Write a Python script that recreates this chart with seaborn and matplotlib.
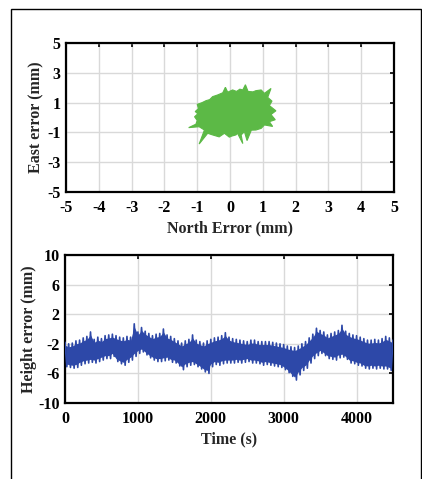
import numpy as np
import pandas as pd
import matplotlib
matplotlib.use("Agg")
import matplotlib.pyplot as plt
import seaborn as sns
from matplotlib.patches import Rectangle

# ---- data ----
# outline of the North/East error cloud (mm)
cloud_north = [-1.26, -1.04, -1.00, -1.08, -0.98, -1.06, -0.96, -1.00, -0.85, -0.73, -0.62, -0.53,
               -0.38, -0.22, -0.14, -0.07, 0.08, 0.20, 0.30, 0.39, 0.47, 0.55, 0.70, 0.79,
               0.95, 1.05, 1.25, 1.15, 1.28, 1.20, 1.40, 1.25, 1.38, 1.20, 1.30, 1.05,
               0.95, 0.79, 0.65, 0.52, 0.44, 0.34, 0.39, 0.23, 0.18, 0.05, -0.02, -0.17,
               -0.33, -0.53, -0.68, -0.94, -0.78, -0.94]
cloud_east = [-0.68, -0.45, -0.20, 0.05, 0.25, 0.40, 0.60, 0.88, 1.00, 1.13, 1.20, 1.40,
              1.51, 1.66, 2.03, 1.70, 1.85, 1.75, 1.90, 1.85, 2.20, 1.75, 1.72, 1.80,
              1.85, 1.62, 1.95, 1.35, 1.10, 0.80, 0.45, 0.20, -0.15, -0.28, -0.60, -0.50,
              -0.73, -0.84, -0.85, -1.55, -0.95, -1.17, -1.75, -1.06, -1.17, -1.25, -1.32, -1.06,
              -1.30, -1.17, -1.06, -1.78, -0.84, -0.62]

# height error band (mm), sampled every 50 s from 0 to 4500 s
time_s = list(range(0, 4501, 50))
height_upper = [-1.8, -2.0, -1.9, -1.6, -1.5, -1.2, -1.0, -0.4, -1.4, -1.1,
                -1.3, -0.9, -0.8, -0.7, -0.9, -1.1, -1.2, -1.0, -1.1, 0.7,
                -0.4, 0.2, -0.3, -0.6, -0.9, -0.7, -0.6, 0.0, -0.8, -1.0,
                -1.3, -1.6, -1.9, -1.6, -1.4, -0.8, -1.5, -1.7, -1.9, -1.6,
                -1.4, -1.2, -1.1, -0.9, -0.5, -1.1, -1.3, -1.4, -1.5, -1.6,
                -1.7, -1.5, -1.5, -1.7, -1.7, -1.7, -1.7, -1.8, -1.9, -2.0,
                -2.1, -2.3, -2.4, -2.5, -2.3, -2.0, -1.7, -1.2, -0.7, 0.1,
                -0.2, -0.4, -0.8, -0.6, -0.4, -0.2, 0.5, -0.3, -0.6, -0.8,
                -0.9, -1.1, -1.3, -1.5, -1.5, -1.4, -1.5, -1.3, -1.0, -1.2, -1.5]
height_lower = [-5.1, -5.2, -5.3, -5.2, -4.9, -4.7, -4.6, -4.5, -4.6, -4.4,
                -4.2, -4.0, -4.0, -3.7, -4.4, -4.7, -4.9, -4.5, -4.2, -3.7,
                -3.3, -3.1, -3.5, -3.9, -4.2, -4.4, -4.4, -4.3, -4.2, -4.5,
                -4.6, -5.0, -5.5, -5.1, -4.9, -4.8, -5.1, -5.4, -5.8, -6.0,
                -5.1, -4.8, -4.9, -4.7, -4.6, -4.6, -4.6, -4.5, -4.6, -4.5,
                -4.4, -4.6, -4.6, -4.7, -4.9, -4.8, -4.9, -5.0, -5.1, -5.2,
                -5.5, -5.9, -6.4, -6.9, -6.2, -5.6, -5.3, -4.6, -4.0, -3.6,
                -3.3, -3.6, -4.0, -4.1, -4.2, -3.9, -3.8, -4.1, -4.6, -4.7,
                -4.9, -5.0, -5.3, -5.4, -5.3, -5.4, -5.3, -5.4, -5.4, -5.6, -5.8]

x_ticks_top = [-5, -4, -3, -2, -1, 0, 1, 2, 3, 4, 5]
y_ticks_top = [-5, -3, -1, 1, 3, 5]
x_ticks_bot = [0, 1000, 2000, 3000, 4000]
y_ticks_bot = [-10, -6, -2, 2, 6, 10]

# ---- style ----
sns.set_theme(style="white")
plt.rcParams['font.family'] = ['Liberation Serif', 'DejaVu Serif']
plt.rcParams['font.weight'] = 'bold'
plt.rcParams['axes.labelweight'] = 'bold'
plt.rcParams['axes.unicode_minus'] = False

GREEN = "#5cb946"
BLUE = "#2d48a8"
GRID = "#d9d9d9"

fig = plt.figure(figsize=(4.22, 4.79), dpi=100)
fig.patch.set_facecolor("white")
fig.patches.append(Rectangle((11 / 422, -0.02), (421 - 11) / 422, 1 - 9 / 479 + 0.02,
                             transform=fig.transFigure, fill=False, edgecolor="black",
                             linewidth=1.0, zorder=0))

ax1 = fig.add_axes([66 / 422, 1 - 192 / 479, (394 - 66) / 422, (192 - 43) / 479])
ax2 = fig.add_axes([65 / 422, 1 - 403 / 479, (393 - 65) / 422, (403 - 255) / 479])

TICK_FS = 11.5
LABEL_FS = 11.5


def style_axes(ax):
    ax.grid(True, color=GRID, linewidth=1.0)
    ax.set_axisbelow(True)
    for sp in ax.spines.values():
        sp.set_visible(True)
        sp.set_color("black")
        sp.set_linewidth(1.6)
    ax.tick_params(direction="in", length=3, width=1.2, top=True, right=True,
                   labelsize=TICK_FS, colors="black", pad=4)
    ax.tick_params(axis="x", pad=6)
    for lab in ax.get_xticklabels() + ax.get_yticklabels():
        lab.set_fontweight("bold")


# top: cloud
ax1.fill(cloud_north, cloud_east, color=GREEN, linewidth=0.8, edgecolor=GREEN, zorder=3)
ax1.set_xlim(-5, 5)
ax1.set_ylim(-5, 5)
ax1.set_xticks(x_ticks_top)
ax1.set_yticks(y_ticks_top)
ax1.set_xlabel("North Error (mm)", fontsize=LABEL_FS, fontweight="bold", labelpad=3)
ax1.set_ylabel("East error (mm)", fontsize=LABEL_FS, fontweight="bold", labelpad=2)
style_axes(ax1)

# bottom: height error (band + zigzag between upper and lower envelope)
zz_t, zz_v = [], []
for t, u, l in zip(time_s, height_upper, height_lower):
    zz_t += [t, t + 25]
    zz_v += [u, l]
df = pd.DataFrame({"t": zz_t, "h": zz_v})
ax2.fill_between(time_s, [u - 0.4 for u in height_upper], [l + 0.4 for l in height_lower],
                 color=BLUE, linewidth=0, zorder=2)
sns.lineplot(data=df, x="t", y="h", ax=ax2, color=BLUE, linewidth=1.2, sort=False, zorder=3)
ax2.set_xlim(0, 4500)
ax2.set_ylim(-10, 10)
ax2.set_xticks(x_ticks_bot)
ax2.set_yticks(y_ticks_bot)
ax2.set_xlabel("Time (s)", fontsize=LABEL_FS, fontweight="bold", labelpad=3)
ax2.set_ylabel("Height error (mm)", fontsize=LABEL_FS, fontweight="bold", labelpad=1)
style_axes(ax2)

fig.savefig("out.png", dpi=100)
